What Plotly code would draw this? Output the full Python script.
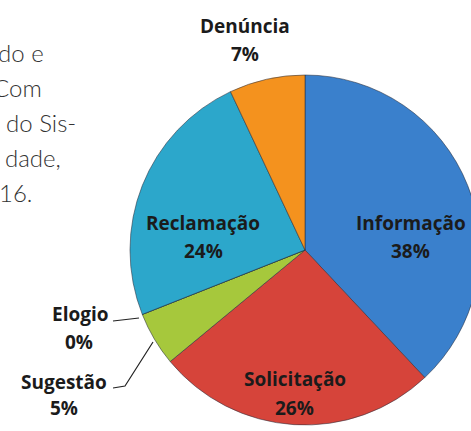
import plotly.graph_objects as go

# ---- data ----
categories = ["Informação", "Solicitação", "Sugestão", "Elogio", "Reclamação", "Denúncia"]
percentages = [38, 26, 5, 0, 24, 7]
colors = ["#3A80CC", "#D6443A", "#A6C83C", "#8FB83A", "#2CA7CB", "#F4921E"]

# figure is slightly wider than the window so the pie can overflow the right edge
W, H = 480, 431

def px(x):
    return x / W

def py(y):
    return 1 - y / H

fig = go.Figure()
fig.add_trace(go.Pie(
    labels=categories,
    values=percentages,
    sort=False,
    direction="clockwise",
    rotation=0,
    marker=dict(colors=colors, line=dict(color="rgba(40,45,60,0.55)", width=1)),
    textinfo="none",
    hoverinfo="label+percent",
    showlegend=False,
    domain=dict(x=[130 / W, 1.0], y=[py(425), py(75)]),
))

# label placements (pixel centres): name line and percent line
label_pos = {
    "Informação": ((411, 223), (410, 251)),
    "Solicitação": ((295, 379), (294, 408)),
    "Sugestão": ((64, 382), (64, 408)),
    "Elogio": ((80, 314), (79, 342)),
    "Reclamação": ((203, 223), (203, 251)),
    "Denúncia": ((245, 26), (245, 54)),
}

label_font = dict(family="Open Sans", size=19, color="#1b1b1b", weight="bold")
annotations = []
for cat, val in zip(categories, percentages):
    (x1, y1), (x2, y2) = label_pos[cat]
    for t, x, y in ((cat, x1, y1), (f"{val:.0f}%", x2, y2)):
        annotations.append(dict(
            x=px(x), y=py(y), xref="paper", yref="paper",
            text=t, showarrow=False, xanchor="center", yanchor="middle",
            font=label_font,
        ))

# fragment of surrounding document text at the left edge
doc_lines = [("do e", 46, 52), ("Com", 44, 87), ("do Sis-", 78, 122),
             ("dade,", 63, 157), ("16.", 34, 192)]
for t, xr, y in doc_lines:
    annotations.append(dict(
        x=px(xr), y=py(y), xref="paper", yref="paper",
        text=t, showarrow=False, xanchor="right", yanchor="middle",
        font=dict(family="Lato", size=24, color="#333333", weight=300),
    ))

shapes = [
    dict(type="path", xref="paper", yref="paper",
         path=f"M {px(113)} {py(321)} L {px(139)} {py(318)}",
         line=dict(color="#222", width=1.2)),
    dict(type="path", xref="paper", yref="paper",
         path=f"M {px(113)} {py(388)} L {px(125)} {py(386)} L {px(153)} {py(342)}",
         line=dict(color="#222", width=1.2)),
]

fig.update_layout(
    width=W, height=H,
    margin=dict(l=0, r=0, t=0, b=0),
    paper_bgcolor="white",
    plot_bgcolor="white",
    annotations=annotations,
    shapes=shapes,
)

fig.write_html(
    "out.html",
    config={"displayModeBar": False},
    post_script="document.body.style.margin='0';document.body.style.overflow='hidden';",
)
